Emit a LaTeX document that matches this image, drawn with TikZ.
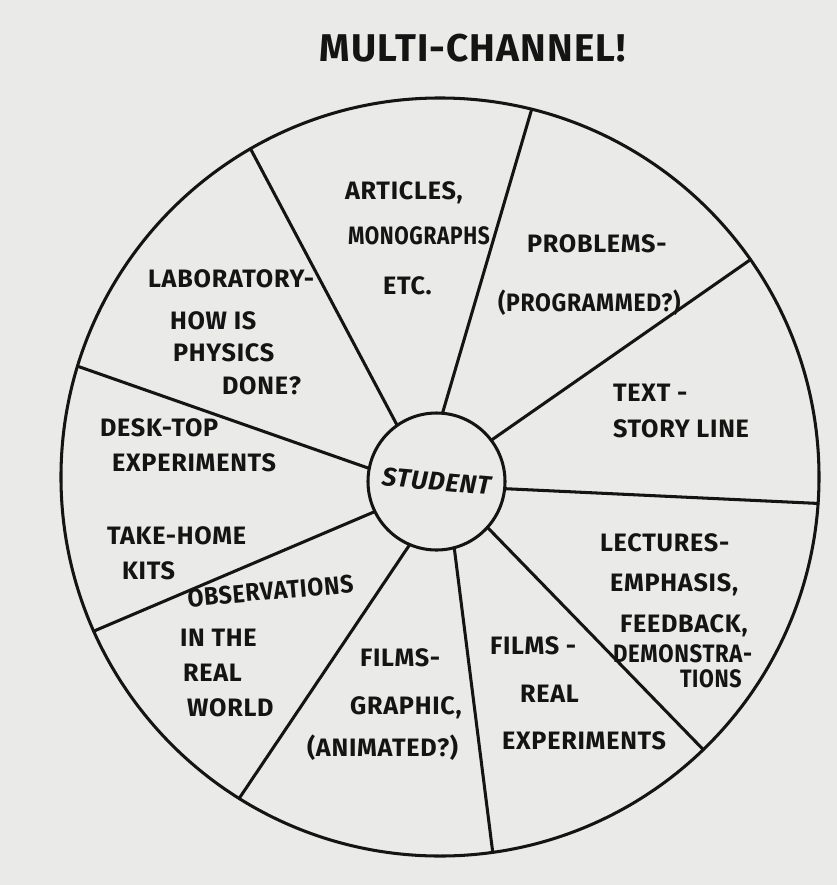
\documentclass[tikz,border=0pt]{standalone}
\usepackage{fontspec}
\setmainfont{Fira Sans}[LetterSpace=3]
\definecolor{paper}{RGB}{234,234,232}
\definecolor{ink}{RGB}{20,20,20}
\newcommand{\squeeze}[2]{\scalebox{#1}[1]{#2}}
\begin{document}
\begin{tikzpicture}[x=0.03cm,y=-0.03cm,
  lbl/.style={anchor=west,inner sep=0pt,outer sep=0pt,text=ink,
    font=\fontsize{21.5}{25}\selectfont\bfseries,text height=0.69em,text depth=0pt},
  spoke/.style={draw=ink,line width=2.6pt,line cap=round},
  ring/.style={circle,draw=ink,line width=2.6pt,inner sep=0pt,outer sep=0pt}]
\fill[paper] (0,0) rectangle (837,885);
\useasboundingbox (0,0) rectangle (837,885);
% title
\node[text=ink,font=\fontsize{33}{37}\selectfont\bfseries] (title) at (473,48) {MULTI-CHANNEL!};
% wheel
\node[ring,minimum size=22.74cm] (wheel) at (440,477) {};
\node[ring,minimum size=4.11cm,text=ink,font=\fontsize{22}{26}\selectfont\bfseries\itshape] (student) at (436.5,481.5) {\rotatebox{-5}{STUDENT}};
% spokes
\draw[spoke] (student.125) -- (wheel.120);
\draw[spoke] (student.85) -- (wheel.76);
\draw[spoke] (student.37) -- (wheel.35);
\draw[spoke] (student.-6) -- (wheel.-4);
\draw[spoke] (student.-42) -- (wheel.-46);
\draw[spoke] (student.-75) -- (wheel.-82);
\draw[spoke] (student.-113) -- (wheel.-122);
\draw[spoke] (student.-154) -- (wheel.-156);
\draw[spoke] (student.169) -- (wheel.163);
% articles
\node[lbl] (art1) at (345,195) {ARTICLES,};
\node[lbl] (art2) at (348,240) {\squeeze{0.83}{MONOGRAPHS}};
\node[lbl] (art3) at (383,290) {ETC.};
% laboratory
\node[lbl] (lab1) at (148,283) {LABORATORY-};
\node[lbl] (lab2) at (170,325) {HOW IS};
\node[lbl] (lab3) at (173,357) {PHYSICS};
\node[lbl] (lab4) at (222,390) {DONE?};
% problems
\node[lbl] (prob1) at (527,248) {PROBLEMS-};
\node[lbl] (prob2) at (498,307) {\squeeze{0.91}{(PROGRAMMED?)}};
% text
\node[lbl] (text1) at (613,397) {TEXT -};
\node[lbl] (text2) at (613,433) {STORY LINE};
% desk-top
\node[lbl] (desk1) at (100,432) {DESK-TOP};
\node[lbl] (desk2) at (112,467) {EXPERIMENTS};
% take-home
\node[lbl] (kit1) at (107,540) {TAKE-HOME};
\node[lbl] (kit2) at (122,575) {KITS};
% observations
\node[lbl,rotate=5] (obs1) at (188,603) {\squeeze{0.92}{OBSERVATIONS}};
\node[lbl] (obs2) at (180,642) {IN THE};
\node[lbl] (obs3) at (183,677) {REAL};
\node[lbl] (obs4) at (187,712) {WORLD};
% films graphic
\node[lbl] (fg1) at (360,662) {FILMS-};
\node[lbl] (fg2) at (350,710) {GRAPHIC,};
\node[lbl] (fg3) at (307,752) {(ANIMATED?)};
% films real
\node[lbl] (fr1) at (490,650) {FILMS -};
\node[lbl] (fr2) at (520,698) {REAL};
\node[lbl] (fr3) at (502,745) {EXPERIMENTS};
% lectures
\node[lbl] (lec1) at (600,547) {LECTURES-};
\node[lbl] (lec2) at (610,587) {EMPHASIS,};
\node[lbl] (lec3) at (620,628) {FEEDBACK,};
\node[lbl] (lec4) at (613,658) {\squeeze{0.88}{DEMONSTRA-}};
\node[lbl] (lec5) at (680,683) {\squeeze{0.85}{TIONS}};
\end{tikzpicture}
\end{document}
